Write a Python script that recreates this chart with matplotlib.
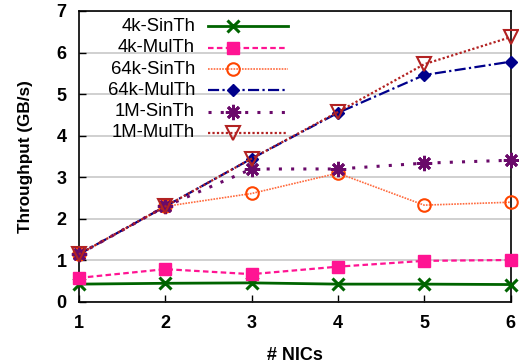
import matplotlib
matplotlib.use("Agg")
import matplotlib.pyplot as plt

nics = [1, 2, 3, 4, 5, 6]
labels = ["4k-SinTh", "4k-MulTh", "64k-SinTh", "64k-MulTh", "1M-SinTh", "1M-MulTh"]
sin4k = [0.43, 0.45, 0.46, 0.43, 0.43, 0.42]
mul4k = [0.58, 0.79, 0.67, 0.85, 0.99, 1.01]
sin64k = [1.15, 2.30, 2.61, 3.10, 2.33, 2.40]
mul64k = [1.15, 2.30, 3.45, 4.55, 5.46, 5.78]
sin1m = [1.15, 2.30, 3.20, 3.20, 3.34, 3.41]
mul1m = [1.15, 2.30, 3.45, 4.57, 5.72, 6.37]
series = [sin4k, mul4k, sin64k, mul64k, sin1m, mul1m]
yticks = [0, 1, 2, 3, 4, 5, 6, 7]

styles = [
    dict(color="#006400", ls="-", lw=2.0, marker="x", ms=9, mew=2.2, mfc="none"),
    dict(color="#ff1493", ls=(0, (2.5, 1.5)), lw=1.6, marker="s", ms=8.5, mew=1, mfc="#ff1493"),
    dict(color="#ff6a3d", ls=(0, (1, 0.7)), lw=1.2, marker="o", ms=9, mew=1.5, mfc="none", mec="#ff4500"),
    dict(color="#00008b", ls=(0, (5, 1.5, 1, 1.5)), lw=1.6, marker="D", ms=6.5, mew=1, mfc="#00008b"),
    dict(color="#6a0a6a", ls=(0, (1, 3)), lw=2.2, marker=(8, 2, 0), ms=11, mew=2.0, mfc="none"),
    dict(color="#b22222", ls=(0, (1, 1)), lw=1.6, marker="v", ms=10, mew=1.5, mfc="none"),
]

FONT = "Liberation Sans"
fig = plt.figure(figsize=(5.19, 3.64), dpi=100)
ax = fig.add_axes([79/519, (364-302)/364, (510.5-79)/519, (302-11)/364])

for vals, st in zip(series, styles):
    ax.plot(nics, vals, clip_on=False, zorder=3, **st)

ax.set_xlim(1, 6)
ax.set_ylim(0, 7)
ax.set_xticks(nics)
ax.set_yticks(yticks)
ax.grid(axis="y", color="#c8c8c8", lw=1.2)
ax.set_axisbelow(True)
for s in ax.spines.values():
    s.set_linewidth(1.2)
ax.tick_params(direction="in", length=5, width=1, top=False, right=False)
for t in ax.get_xticklabels() + ax.get_yticklabels():
    t.set_fontweight("bold")
    t.set_fontsize(13)
    t.set_fontfamily(FONT)
ax.tick_params(axis="x", pad=9)
ax.tick_params(axis="y", pad=9)
ax.set_xlabel("# NICs", fontsize=13, fontweight="bold", family=FONT, labelpad=11)
ax.set_ylabel("Throughput (GB/s)", fontsize=12.3, fontweight="bold", family=FONT, labelpad=17)

# gnuplot-style legend: right-aligned labels, samples to the right
def ax_xy(px, py):
    x0, x1 = 79, 510.5
    y0, y1 = 302, 11
    return (px - x0) / (x1 - x0), (y0 - py) / (y0 - y1)

rows_y = [26.5, 47.8, 69.1, 90.4, 111.7, 133.0]
for lab, st, py in zip(labels, styles, rows_y):
    tx, ty = ax_xy(195, py)
    ax.text(tx, ty, lab, transform=ax.transAxes, ha="right", va="center",
            fontsize=13.3, family=FONT)
    lx0, _ = ax_xy(208, py)
    lx1, _ = ax_xy(288, py)
    mx, _ = ax_xy(233, py)
    st2 = dict(st)
    marker = st2.pop("marker"); ms = st2.pop("ms"); mew = st2.pop("mew"); mfc = st2.pop("mfc")
    mec = st2.pop("mec", st2["color"])
    ax.plot([lx0, lx1], [ty, ty], transform=ax.transAxes, color=st2["color"], ls=st2["ls"], lw=st2["lw"], zorder=4)
    ax.plot([mx], [ty], transform=ax.transAxes, marker=marker, ms=ms, mew=mew, mfc=mfc, mec=mec, ls="none", zorder=5)

fig.savefig("out.png", dpi=100)
